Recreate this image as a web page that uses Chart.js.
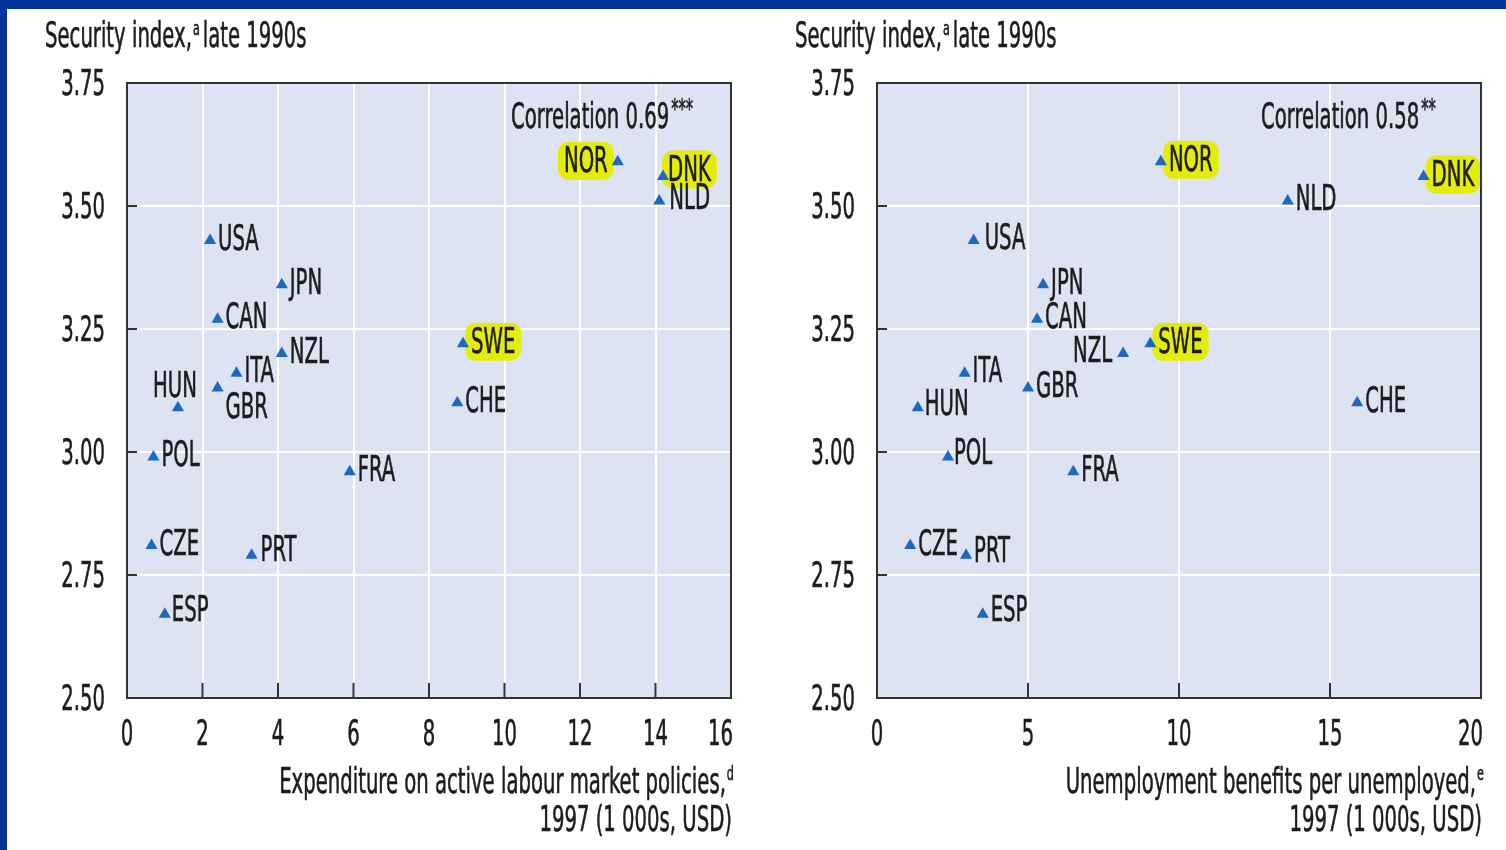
<!DOCTYPE html>
<html>
<head>
<meta charset="utf-8">
<script src="https://cdn.jsdelivr.net/npm/chart.js@4.4.1/dist/chart.umd.min.js"></script>
<style>
  body { margin: 0; background: #fff; width: 1506px; height: 850px; overflow: hidden; position: relative; }
  canvas { position: absolute; top: 0; }
  #left { left: 0; }
  #right { left: 750px; }
  .bar { position: absolute; background: #003399; z-index: 5; }
</style>
</head>
<body>
<div class="bar" style="left:0;top:0;width:1506px;height:9px"></div>
<div class="bar" style="left:0;top:0;width:7px;height:850px"></div>
<canvas id="left" width="750" height="850"></canvas>
<canvas id="right" width="756" height="850"></canvas>
<script>
// data
const countries = ["NOR","DNK","NLD","USA","JPN","CAN","NZL","SWE","ITA","GBR","HUN","CHE","POL","FRA","CZE","PRT","ESP"];
const securityIndex = [3.59,3.56,3.51,3.43,3.34,3.27,3.20,3.22,3.16,3.13,3.09,3.10,2.99,2.96,2.81,2.79,2.67];
const almpSpending = [13.0,14.2,14.1,2.2,4.1,2.4,4.1,8.9,2.9,2.4,1.35,8.75,0.7,5.9,0.65,3.3,1.0];
const benefitsPerUnemployed = [9.4,18.1,13.6,3.2,5.5,5.3,8.15,9.05,2.9,5.0,1.35,15.9,2.35,6.5,1.1,2.95,3.5];
const highlighted = ["NOR","DNK","SWE"];
const yTicks = [2.5, 2.75, 3.0, 3.25, 3.5, 3.75];

const TEXT = "#1c1c1c";
const FONT = '"Liberation Sans Narrow", "DejaVu Sans Condensed", "Liberation Sans", sans-serif';

// label placement (style only)
const leftLabelPos = {
  NOR: {dx: -10, dy: -2, align: "right"},
  DNK: {dx: 5, dy: -8},
  NLD: {dx: 10, dy: -4},
  GBR: {dx: 8, dy: 18},
  HUN: {dx: -3, dy: -23, align: "center"},
  PRT: {dx: 9, dy: -6},
  ESP: {dx: 7, dy: -5}
};
const rightLabelPos = {
  NZL: {dx: -11, dy: -4, align: "right"},
  USA: {dx: 11, dy: -4},
  PRT: {dx: 8, dy: -5},
  POL: {dx: 6, dy: -5},
  ESP: {dx: 8, dy: -5},
  HUN: {dx: 7, dy: -5}
};

function condense(ctx, size) {
  ctx.font = size + "px " + FONT;
  // squeeze glyphs so a digit is about 12.5px wide at 35px
  return (12.5 * size / 35) / ctx.measureText("0").width;
}

function txt(ctx, s, x, y, align, size) {
  size = size || 35;
  ctx.save();
  const sx = condense(ctx, size);
  const w = ctx.measureText(s).width * sx;
  const left = align === "right" ? x - w : align === "center" ? x - w / 2 : x;
  ctx.textBaseline = "middle";
  ctx.textAlign = "left";
  ctx.fillStyle = TEXT;
  ctx.strokeStyle = TEXT;
  ctx.lineWidth = 0.6;
  ctx.translate(left, y + 3);
  ctx.scale(sx, 1);
  ctx.fillText(s, 0, 0);
  ctx.strokeText(s, 0, 0);
  ctx.restore();
  return w;
}

function width(ctx, s, size) {
  ctx.save();
  const sx = condense(ctx, size || 35);
  const w = ctx.measureText(s).width * sx;
  ctx.restore();
  return w;
}

function makeChart(id, xs, xMax, xStep, corr, stars, xTitle, sup, labelPos, rightPad) {
  const decor = {
    id: "decor",
    beforeDraw(chart) {
      const {ctx, chartArea: a} = chart;
      ctx.save();
      ctx.fillStyle = "#dde3f3";
      ctx.fillRect(a.left, a.top, a.right - a.left, a.bottom - a.top);
      ctx.restore();
    },
    beforeDatasetsDraw(chart) {
      const ctx = chart.ctx;
      const pts = chart.getDatasetMeta(0).data;
      pts.forEach((p, i) => {
        const c = countries[i];
        const o = Object.assign({dx: 8, dy: -3, align: "left"}, labelPos[c] || {});
        const x = p.x + o.dx, y = p.y + o.dy;
        const w = width(ctx, c);
        if (highlighted.includes(c)) {
          const left = o.align === "right" ? x - w : o.align === "center" ? x - w / 2 : x;
          ctx.save();
          ctx.fillStyle = "#e4ec0a";
          ctx.beginPath();
          ctx.roundRect(left - 6, y - 18, w + 12, 38, 11);
          ctx.fill();
          ctx.restore();
        }
        txt(ctx, c, x, y, o.align);
      });
    },
    afterDraw(chart) {
      const {ctx, chartArea: a, scales} = chart;
      ctx.save();
      ctx.strokeStyle = "#333";
      ctx.lineWidth = 2;
      ctx.strokeRect(a.left, a.top, a.right - a.left, a.bottom - a.top);
      ctx.beginPath();
      scales.y.ticks.forEach(t => {
        const y = scales.y.getPixelForValue(t.value);
        if (y > a.top + 2 && y < a.bottom - 2) { ctx.moveTo(a.left, y); ctx.lineTo(a.left + 10, y); }
      });
      scales.x.ticks.forEach(t => {
        const x = scales.x.getPixelForValue(t.value);
        if (x > a.left + 2 && x < a.right - 2) { ctx.moveTo(x, a.bottom); ctx.lineTo(x, a.bottom - 15); }
      });
      ctx.stroke();
      ctx.restore();

      scales.y.ticks.forEach(t => {
        txt(ctx, t.value.toFixed(2), a.left - 22, scales.y.getPixelForValue(t.value), "right");
      });
      const n = scales.x.ticks.length;
      scales.x.ticks.forEach((t, i) => {
        const x = scales.x.getPixelForValue(t.value);
        if (i === n - 1) txt(ctx, String(t.value), a.right + 2, a.bottom + 35, "right");
        else txt(ctx, String(t.value), x, a.bottom + 35, "center");
      });

      // y title
      let x = a.left - 82;
      x += txt(ctx, "Security index,", x, 35, "left");
      x += txt(ctx, "a", x + 1, 27, "left", 20) + 4;
      txt(ctx, "late 1990s", x, 35, "left");

      // correlation
      const cx = a.left + 384;
      const cw = txt(ctx, corr, cx, 116, "left");
      txt(ctx, stars, cx + cw + 2, 108, "left", 26);

      // x title, right aligned
      const r = a.right + 3;
      const sw = width(ctx, sup, 20);
      txt(ctx, sup, r, 772, "right", 20);
      txt(ctx, xTitle, r - sw - 1, 781, "right");
      txt(ctx, "1997 (1 000s, USD)", a.right + 1, 819, "right");
    }
  };

  return new Chart(document.getElementById(id), {
    type: "scatter",
    data: {
      datasets: [{
        data: countries.map((c, i) => ({x: xs[i], y: securityIndex[i]})),
        pointStyle: "triangle",
        pointRadius: 7,
        pointHoverRadius: 7,
        backgroundColor: "#1d68c2",
        borderColor: "#1d68c2",
        borderWidth: 0
      }]
    },
    options: {
      responsive: false,
      devicePixelRatio: 1,
      animation: false,
      events: [],
      layout: {padding: {top: 83, right: rightPad, bottom: 0, left: 0}},
      plugins: {legend: {display: false}, tooltip: {enabled: false}},
      scales: {
        x: {
          type: "linear", min: 0, max: xMax,
          ticks: {stepSize: xStep, display: false},
          grid: {color: "#ffffff", lineWidth: 2, drawTicks: false},
          border: {display: false},
          afterFit(s) { s.height = 152; }
        },
        y: {
          type: "linear", min: yTicks[0], max: yTicks[yTicks.length - 1],
          afterBuildTicks(s) { s.ticks = yTicks.map(v => ({value: v})); },
          ticks: {display: false},
          grid: {color: "#ffffff", lineWidth: 2, drawTicks: false},
          border: {display: false},
          afterFit(s) { s.width = 127; }
        }
      }
    },
    plugins: [decor]
  });
}

makeChart("left", almpSpending, 16, 2, "Correlation 0.69", "***",
  "Expenditure on active labour market policies,", "d", leftLabelPos, 19);
makeChart("right", benefitsPerUnemployed, 20, 5, "Correlation 0.58", "**",
  "Unemployment benefits per unemployed,", "e", rightLabelPos, 25);
</script>
</body>
</html>
